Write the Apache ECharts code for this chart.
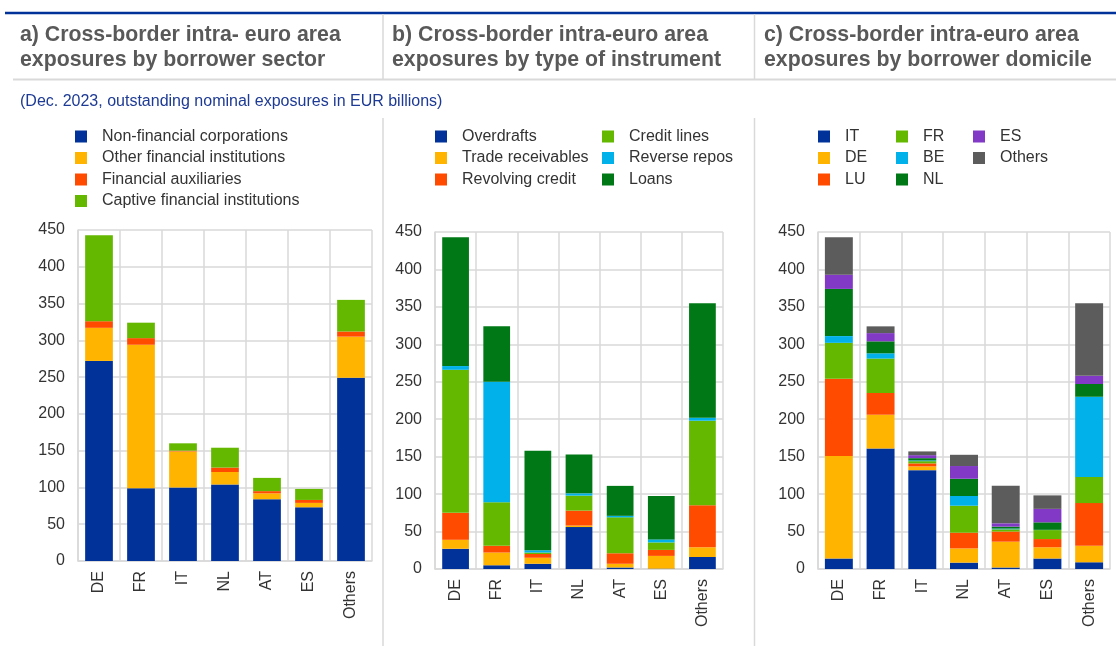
<!DOCTYPE html>
<html>
<head>
<meta charset="utf-8">
<script src="https://cdn.jsdelivr.net/npm/echarts@6/dist/echarts.min.js"></script>
<style>
  html, body { margin: 0; padding: 0; background: #fff; }
  #chart { width: 1116px; height: 646px; }
</style>
</head>
<body>
<div id="chart"></div>
<script>
// categories shared by all three panels
var countries = ["DE", "FR", "IT", "NL", "AT", "ES", "Others"];
var yTicks = [0, 50, 100, 150, 200, 250, 300, 350, 400, 450];

// panel a - by borrower sector
var sectorNames = ["Non-financial corporations", "Other financial institutions", "Financial auxiliaries", "Captive financial institutions"];
var nfc = [272, 99, 100, 104, 84, 73, 249];
var ofi = [45, 195, 49, 17, 8, 6, 56];
var finAux = [9, 9, 1, 6, 3, 4, 7];
var captive = [117, 21, 10, 27, 18, 15, 43];

// panel b - by type of instrument
var instrNames = ["Overdrafts", "Trade receivables", "Revolving credit", "Credit lines", "Reverse repos", "Loans"];
var overdrafts = [27, 5, 7, 56, 2, 0.5, 16];
var tradeRec = [12, 17, 8, 2, 5, 17, 13];
var revolving = [36, 9, 5, 20, 14, 8, 56];
var creditLines = [191, 58, 2, 20, 48, 10, 113];
var reverseRepos = [5, 161, 3, 3, 2, 4, 4];
var loans = [172, 74, 133, 52, 40, 58, 153];

// panel c - by borrower domicile
var domNames = ["IT", "DE", "LU", "FR", "BE", "NL", "ES", "Others"];
var domIT = [14, 161, 132, 8.5, 2, 14, 9];
var domDE = [137, 45, 5, 19, 34.5, 15, 22];
var domLU = [103, 29, 4, 21, 13.5, 11, 57];
var domFR = [48, 46, 3, 36, 3, 12, 35];
var domBE = [9, 7, 1, 13, 1, 0.3, 107];
var domNL = [63, 16, 3, 23, 2.6, 10, 17];
var domES = [19, 11, 4, 17, 4.4, 18, 11];
var domOthers = [50, 9, 5, 15, 50, 18, 97];

var colors = {
  blue: "#003299", yellow: "#ffb400", red: "#ff4b00", green: "#65b800",
  cyan: "#00b1ea", dkgreen: "#007816", purple: "#8139c6", grey: "#5c5c5c"
};
var lineGrey = "#d9d9d9";
var fontName = "Liberation Sans";

var chart = echarts.init(document.getElementById("chart"));

function makeX(idx) {
  return {
    type: "category", gridIndex: idx, data: countries,
    axisLine: { lineStyle: { color: lineGrey, width: 1.5 } },
    axisTick: { show: false },
    axisLabel: { rotate: 90, margin: 10, fontSize: 16, color: "#333", fontFamily: fontName },
    splitLine: { show: true, lineStyle: { color: lineGrey, width: 1.5 } }
  };
}
function makeY(idx) {
  return {
    type: "value", gridIndex: idx, min: yTicks[0], max: yTicks[yTicks.length - 1], interval: 50,
    axisLine: { show: true, lineStyle: { color: lineGrey, width: 1.5 } },
    axisTick: { show: false },
    axisLabel: { margin: 13, fontSize: 16, color: "#333", fontFamily: fontName },
    splitLine: { lineStyle: { color: lineGrey, width: 1.5 } }
  };
}
function bar(name, data, color, idx, width) {
  return {
    type: "bar", name: name, data: data, stack: "s" + idx,
    xAxisIndex: idx, yAxisIndex: idx, barWidth: width,
    itemStyle: { color: color }, emphasis: { disabled: true }
  };
}
function legend(names, left, top) {
  return {
    data: names, orient: "vertical", left: left, top: top,
    itemWidth: 12, itemHeight: 12, itemGap: 4.5, icon: "rect",
    selectedMode: false,
    textStyle: { fontSize: 16, color: "#333", fontFamily: fontName, lineHeight: 17, padding: [0, 0, 0, 10] }
  };
}
function titleBlock(text, left) {
  return {
    text: text, left: left, top: 18,
    textStyle: { fontSize: 21.3, fontWeight: "bold", color: "#595959", fontFamily: fontName, lineHeight: 25 }
  };
}

var option = {
  animation: false,
  title: [
    titleBlock("a) Cross-border intra- euro area\nexposures by borrower sector", 15),
    titleBlock("b) Cross-border intra-euro area\nexposures by type of instrument", 387),
    titleBlock("c) Cross-border intra-euro area\nexposures by borrower domicile", 759),
    {
      text: "(Dec. 2023, outstanding nominal exposures in EUR billions)", left: 15, top: 89,
      textStyle: { fontSize: 16, fontWeight: "normal", color: "#1d3a94", fontFamily: fontName }
    }
  ],
  legend: [
    legend(sectorNames, 70, 123),
    legend(instrNames.slice(0, 3), 430, 123),
    legend(instrNames.slice(3), 597, 123),
    legend(domNames.slice(0, 3), 813, 123),
    legend(domNames.slice(3, 6), 891, 123),
    legend(domNames.slice(6), 968, 123)
  ],
  grid: [
    { left: 78, right: 744, top: 230, bottom: 85 },
    { left: 435, right: 393, top: 232, bottom: 77 },
    { left: 818, right: 6, top: 232, bottom: 77 }
  ],
  xAxis: [makeX(0), makeX(1), makeX(2)],
  yAxis: [makeY(0), makeY(1), makeY(2)],
  series: [
    bar(sectorNames[0], nfc, colors.blue, 0, "66%"),
    bar(sectorNames[1], ofi, colors.yellow, 0, "66%"),
    bar(sectorNames[2], finAux, colors.red, 0, "66%"),
    bar(sectorNames[3], captive, colors.green, 0, "66%"),

    bar(instrNames[0], overdrafts, colors.blue, 1, "65%"),
    bar(instrNames[1], tradeRec, colors.yellow, 1, "65%"),
    bar(instrNames[2], revolving, colors.red, 1, "65%"),
    bar(instrNames[3], creditLines, colors.green, 1, "65%"),
    bar(instrNames[4], reverseRepos, colors.cyan, 1, "65%"),
    bar(instrNames[5], loans, colors.dkgreen, 1, "65%"),

    bar(domNames[0], domIT, colors.blue, 2, "67%"),
    bar(domNames[1], domDE, colors.yellow, 2, "67%"),
    bar(domNames[2], domLU, colors.red, 2, "67%"),
    bar(domNames[3], domFR, colors.green, 2, "67%"),
    bar(domNames[4], domBE, colors.cyan, 2, "67%"),
    bar(domNames[5], domNL, colors.dkgreen, 2, "67%"),
    bar(domNames[6], domES, colors.purple, 2, "67%"),
    bar(domNames[7], domOthers, colors.grey, 2, "67%")
  ],
  graphic: [
    { type: "line", shape: { x1: 5, y1: 13, x2: 1116, y2: 13 }, style: { stroke: "#003299", lineWidth: 2.5 } },
    { type: "line", shape: { x1: 13, y1: 79.5, x2: 1116, y2: 79.5 }, style: { stroke: lineGrey, lineWidth: 2 } },
    { type: "line", shape: { x1: 383, y1: 14, x2: 383, y2: 79 }, style: { stroke: lineGrey, lineWidth: 1.5 } },
    { type: "line", shape: { x1: 754.5, y1: 14, x2: 754.5, y2: 79 }, style: { stroke: lineGrey, lineWidth: 1.5 } },
    { type: "line", shape: { x1: 383, y1: 118, x2: 383, y2: 646 }, style: { stroke: lineGrey, lineWidth: 1.5 } },
    { type: "line", shape: { x1: 754.5, y1: 118, x2: 754.5, y2: 646 }, style: { stroke: lineGrey, lineWidth: 1.5 } }
  ]
};

chart.setOption(option);
</script>
</body>
</html>
